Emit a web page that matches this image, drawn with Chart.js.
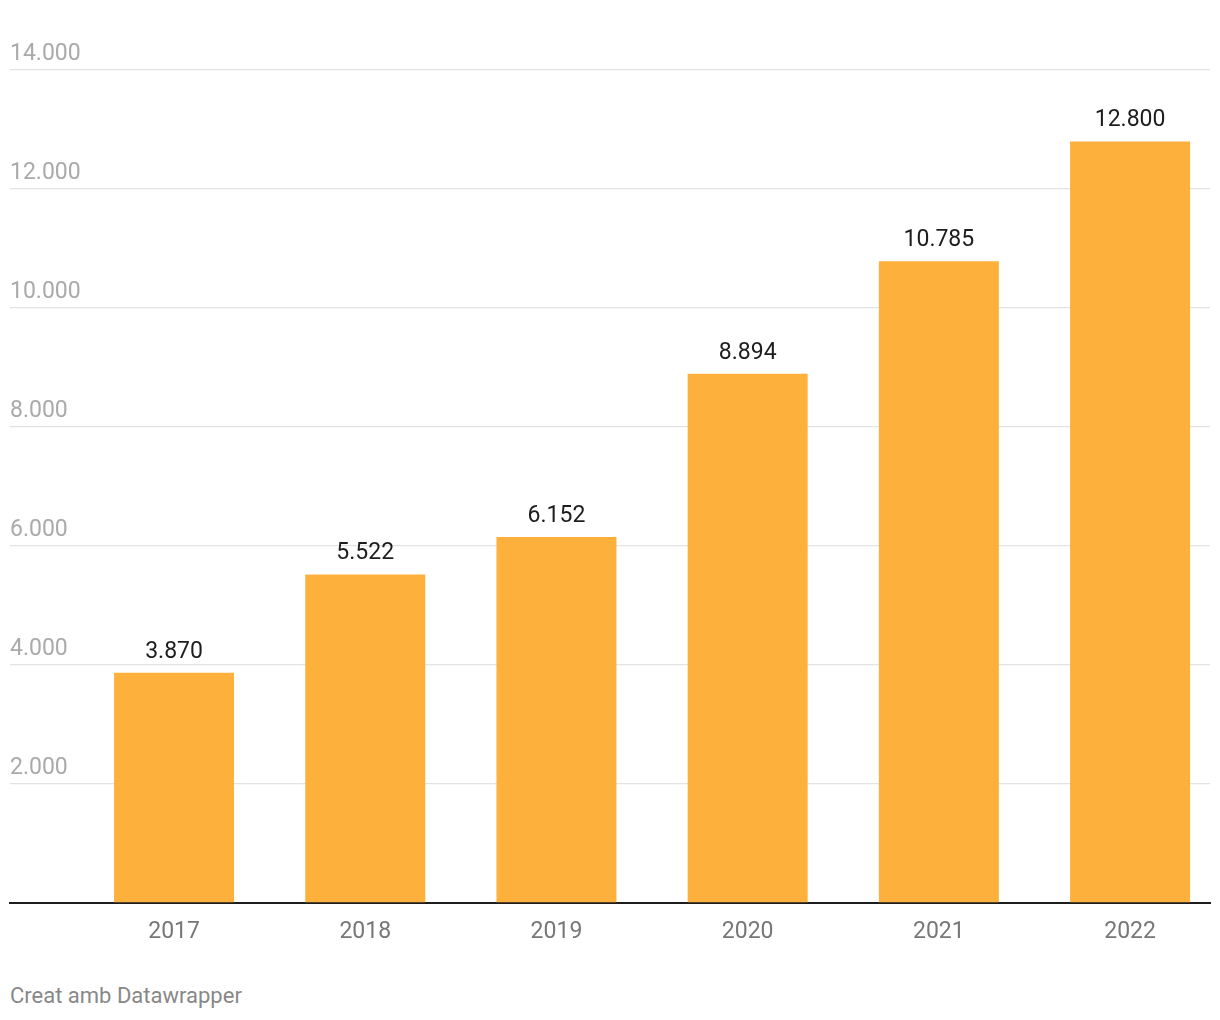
<!DOCTYPE html>
<html>
<head>
<meta charset="utf-8">
<script src="https://cdn.jsdelivr.net/npm/chart.js@4.4.1/dist/chart.umd.min.js"></script>
<style>
    body { margin: 0; background: #fff; font-family: Roboto, sans-serif; }
    #wrap { position: relative; width: 1220px; height: 960px; }
    #credit { position: absolute; left: 10px; top: 983px; font-size: 22px; color: #888; }
</style>
</head>
<body>
<div id="wrap"><canvas id="barChart"></canvas></div>
<div id="credit">Creat amb Datawrapper</div>
<script>
const years = ["2017", "2018", "2019", "2020", "2021", "2022"];
const values = [3870, 5522, 6152, 8894, 10785, 12800];
const yTicks = [0, 2000, 4000, 6000, 8000, 10000, 12000, 14000];

function fmt(v) {
    return String(v).replace(/\B(?=(\d{3})+(?!\d))/g, ".");
}

// labels above each bar
const valueLabels = {
    id: "valueLabels",
    afterDatasetsDraw(chart) {
        const ctx = chart.ctx;
        const meta = chart.getDatasetMeta(0);
        ctx.save();
        ctx.font = "23px Roboto";
        ctx.fillStyle = "#1d1d1d";
        ctx.textAlign = "center";
        ctx.textBaseline = "alphabetic";
        meta.data.forEach(function (bar, i) {
            ctx.fillText(fmt(values[i]), bar.x, bar.y - 15);
        });
        ctx.restore();
    }
};

const ctx = document.getElementById("barChart").getContext("2d");
new Chart(ctx, {
    type: "bar",
    data: {
        datasets: [{
            data: values.map((v, i) => ({ x: i, y: v })),
            backgroundColor: "#fdb13c",
            barPercentage: 1,
            categoryPercentage: 0.6276,
        }],
    },
    options: {
        responsive: true,
        maintainAspectRatio: false,
        animation: false,
        layout: { padding: { left: 10, right: 10, top: 70, bottom: 17 } },
        plugins: { legend: { display: false }, tooltip: { enabled: false } },
        scales: {
            x: {
                type: "linear",
                offset: false,
                min: -0.858,
                max: 5.418,
                afterBuildTicks: function (scale) {
                    scale.ticks = years.map((y, i) => ({ value: i }));
                },
                afterFit: function (scale) { scale.height = 40; },
                grid: { display: false, drawTicks: false },
                border: { display: true, color: "#1d1d1d", width: 2 },
                ticks: {
                    padding: 15,
                    color: "#777",
                    font: { family: "Roboto", size: 23 },
                    callback: function (v) { return years[v]; },
                },
            },
            y: {
                min: 0,
                max: 14000,
                afterBuildTicks: function (scale) {
                    scale.ticks = yTicks.map(v => ({ value: v }));
                },
                grid: { color: "#e3e3e3", lineWidth: 1.3, drawTicks: false },
                border: { display: false },
                ticks: {
                    mirror: true,
                    padding: 0,
                    labelOffset: -16,
                    color: "#aaa",
                    font: { family: "Roboto", size: 23 },
                    callback: function (v) { return v === 0 ? "" : fmt(v); },
                },
            },
        },
    },
    plugins: [valueLabels],
});
</script>
</body>
</html>
